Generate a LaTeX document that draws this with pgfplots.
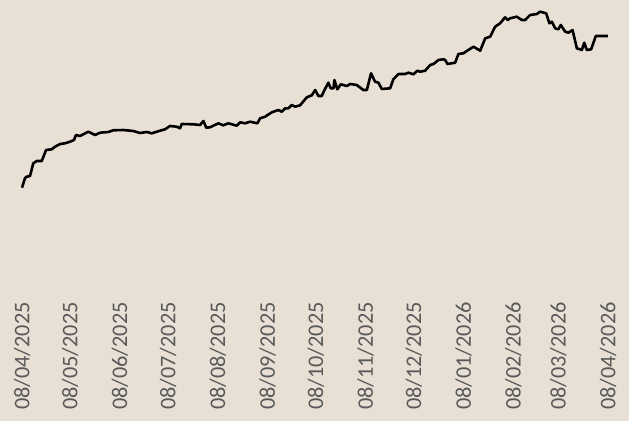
\documentclass[border=0pt]{standalone}
\usepackage{fontspec}
\setmainfont{Carlito}
\usepackage{pgfplots}
\pgfplotsset{compat=1.18}
\definecolor{bg}{HTML}{E8E0D5}
\definecolor{lbl}{HTML}{595959}
\begin{document}
\begin{tikzpicture}
\fill[bg] (-22pt,-131pt) rectangle (607pt,290pt);
\begin{axis}[
  at={(0,0)}, anchor=south west,
  scale only axis, width=586pt, height=290pt,
  xmin=0, xmax=365, ymin=131, ymax=421,
  clip=false,
  axis line style={draw=none},
  major tick length=0pt,
  tick style={draw=none},
  ytick=\empty,
  xtick={0,30,61,91,122,153,183,214,244,275,306,334,365},
  xticklabels={08/04/2025,08/05/2025,08/06/2025,08/07/2025,08/08/2025,08/09/2025,08/10/2025,08/11/2025,08/12/2025,08/01/2026,08/02/2026,08/03/2026,08/04/2026},
  xticklabel shift=12pt,
  xticklabel style={rotate=90, anchor=east, inner sep=0pt, text=lbl, font=\fontsize{22.3}{27}\selectfont},
]
\addplot[black, line width=2.6pt, line join=round] coordinates {
(0,233.3)(1.9,243)(2.9,244.3)(5.0,245)(7.0,257.7)(9.2,260)(12.3,260)(15.0,271)(18.5,271.7)(20.6,274.3)(23.7,277)(26.8,277.7)(29.9,279.3)(32.4,281)(33.6,286)(36.1,285)(41.3,289.3)(45.5,286)(48.6,288.3)(53.8,289)(56.9,290.7)(63.1,291)(69.3,290)(73.5,288)(77.7,289)(80.8,287.7)(86.0,290.3)(89.1,291.7)(92.2,295)(96.4,294.3)(98.4,292.7)(99.5,297)(106.7,296.7)(110.9,296)(113.0,300)(114.8,293.3)(117.1,293.7)(122.3,297.7)(125.4,295.7)(128.5,297.7)(133.8,295.3)(135.8,298.7)(138.9,297.7)(142.1,299.3)(146.6,297.7)(148.3,302.7)(151.4,304.3)(155.6,308.7)(159.7,311)(161.8,309.3)(163.9,312.7)(165.9,312.7)(168.0,316)(170.1,314.3)(173.2,315.7)(177.4,323.7)(180.5,325.7)(182.6,331)(184.6,325)(186.7,325)(188.2,330.3)(190.8,338.3)(192.3,332.7)(194.0,332.7)(194.6,341)(196.4,331.7)(198.6,336.7)(202.3,335)(204.4,337)(208.5,336)(212.6,331)(214.8,331)(217.4,347.7)(219.9,339.3)(222.0,338.3)(224.1,332)(229.3,332.7)(231.3,341.7)(234.5,347)(238.6,347)(240.7,348.3)(243.8,346.7)(246.3,350.3)(248.0,349.3)(251.1,350.3)(254.2,356)(256.3,357)(259.4,361)(262.5,361.7)(263.6,361)(265.0,357)(269.8,358.3)(271.8,367)(274.9,367.7)(278.0,371)(281.2,374.3)(285.4,370.3)(288.5,382.7)(291.6,384.3)(294.7,394.3)(297.8,397.7)(300.9,403.7)(302.6,401)(304.0,402.7)(308.2,404.3)(311.3,401)(313.4,401)(316.5,406)(320.7,407)(322.7,409.3)(326.5,407.7)(328.5,397.7)(330.0,399.3)(332.1,392.7)(334.1,391.7)(335.6,396)(338.3,389.3)(340.4,388.3)(342.9,391)(345.6,372.7)(348.7,371)(350.2,378.3)(351.8,371)(354.5,371.7)(357.4,385)(364.9,385)
};
\end{axis}
\end{tikzpicture}
\end{document}
